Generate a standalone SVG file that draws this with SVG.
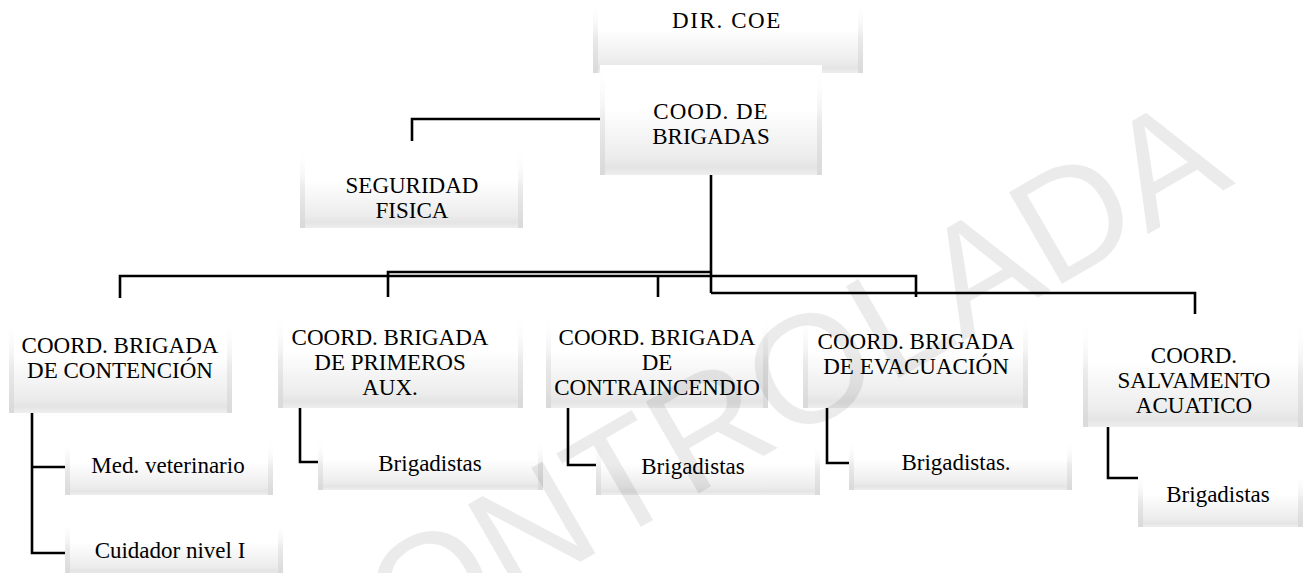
<svg xmlns="http://www.w3.org/2000/svg" width="1304" height="573" viewBox="0 0 1304 573">
<style>
.box{fill:url(#bev);}
.edge{fill:url(#side);}
.t{font-family:'Liberation Serif','Times New Roman',Times,'DejaVu Serif',serif;font-size:23px;fill:#000;text-anchor:middle;}
.c{fill:none;stroke:#000;stroke-width:2.6;stroke-linejoin:miter;stroke-linecap:butt;}
.wm{font-family:'Liberation Sans',Arial,sans-serif;font-size:154px;fill:#000;fill-opacity:0.08;}
</style>
<defs>
<linearGradient id="bev" x1="0" y1="0" x2="0" y2="1">
<stop offset="0" stop-color="#ffffff"/>
<stop offset="0.4" stop-color="#ffffff"/>
<stop offset="0.85" stop-color="#ececec"/>
<stop offset="0.93" stop-color="#e4e4e4"/>
<stop offset="1" stop-color="#eeeeee"/>
</linearGradient>
<linearGradient id="side" x1="0" y1="0" x2="0" y2="1">
<stop offset="0" stop-color="#ffffff" stop-opacity="0"/>
<stop offset="0.5" stop-color="#e0e0e0" stop-opacity="0.6"/>
<stop offset="1" stop-color="#d8d8d8" stop-opacity="0.9"/>
</linearGradient>
</defs>
<rect width="1304" height="573" fill="#ffffff"/>

<g id="dir">
<rect class="box" x="593" y="0" width="270" height="73"/>
<rect class="edge" x="593" y="0" width="5" height="73"/><rect class="edge" x="858" y="0" width="5" height="73"/>
<text class="t" x="727" y="28" letter-spacing="1.6">DIR. COE</text>
</g>
<g id="cood">
<rect class="box" x="600" y="65" width="222" height="110"/>
<rect class="edge" x="600" y="65" width="5" height="110"/><rect class="edge" x="817" y="65" width="5" height="110"/>
<text class="t" x="711" y="119" letter-spacing="1">COOD. DE</text>
<text class="t" x="711" y="144">BRIGADAS</text>
</g>
<g id="seguridad">
<rect class="box" x="300" y="148" width="223" height="80"/>
<rect class="edge" x="300" y="148" width="5" height="80"/><rect class="edge" x="518" y="148" width="5" height="80"/>
<text class="t" x="412" y="193">SEGURIDAD</text>
<text class="t" x="412" y="218">FISICA</text>
</g>
<g id="contencion">
<rect class="box" x="9" y="318" width="223" height="95"/>
<rect class="edge" x="9" y="318" width="5" height="95"/><rect class="edge" x="227" y="318" width="5" height="95"/>
<text class="t" x="120" y="353">COORD. BRIGADA</text>
<text class="t" x="120" y="378">DE CONTENCIÓN</text>
</g>
<g id="primeros">
<rect class="box" x="278" y="313" width="245" height="95"/>
<rect class="edge" x="278" y="313" width="5" height="95"/><rect class="edge" x="518" y="313" width="5" height="95"/>
<text class="t" x="390" y="345">COORD. BRIGADA</text>
<text class="t" x="390" y="370">DE PRIMEROS</text>
<text class="t" x="390" y="395">AUX.</text>
</g>
<g id="contraincendio">
<rect class="box" x="546" y="313" width="222" height="95"/>
<rect class="edge" x="546" y="313" width="5" height="95"/><rect class="edge" x="763" y="313" width="5" height="95"/>
<text class="t" x="657" y="345">COORD. BRIGADA</text>
<text class="t" x="657" y="370">DE</text>
<text class="t" x="657" y="395">CONTRAINCENDIO</text>
</g>
<g id="evacuacion">
<rect class="box" x="803" y="313" width="225" height="95"/>
<rect class="edge" x="803" y="313" width="5" height="95"/><rect class="edge" x="1023" y="313" width="5" height="95"/>
<text class="t" x="916" y="349">COORD. BRIGADA</text>
<text class="t" x="916" y="374">DE EVACUACIÓN</text>
</g>
<g id="salvamento">
<rect class="box" x="1083" y="318" width="220" height="109"/>
<rect class="edge" x="1083" y="318" width="5" height="109"/><rect class="edge" x="1298" y="318" width="5" height="109"/>
<text class="t" x="1194" y="363">COORD.</text>
<text class="t" x="1194" y="388">SALVAMENTO</text>
<text class="t" x="1194" y="413">ACUATICO</text>
</g>
<g id="medvet">
<rect class="box" x="65" y="440" width="208" height="55"/>
<rect class="edge" x="65" y="440" width="5" height="55"/><rect class="edge" x="268" y="440" width="5" height="55"/>
<text class="t" x="168" y="473">Med. veterinario</text>
</g>
<g id="cuidador">
<rect class="box" x="65" y="520" width="218" height="55"/>
<rect class="edge" x="65" y="520" width="5" height="55"/><rect class="edge" x="278" y="520" width="5" height="55"/>
<text class="t" x="170" y="558">Cuidador nivel I</text>
</g>
<g id="brig-primeros">
<rect class="box" x="318" y="440" width="225" height="50"/>
<rect class="edge" x="318" y="440" width="5" height="50"/><rect class="edge" x="538" y="440" width="5" height="50"/>
<text class="t" x="430" y="471">Brigadistas</text>
</g>
<g id="brig-contra">
<rect class="box" x="596" y="443" width="224" height="52"/>
<rect class="edge" x="596" y="443" width="5" height="52"/><rect class="edge" x="815" y="443" width="5" height="52"/>
<text class="t" x="693" y="474">Brigadistas</text>
</g>
<g id="brig-evac">
<rect class="box" x="849" y="440" width="223" height="50"/>
<rect class="edge" x="849" y="440" width="5" height="50"/><rect class="edge" x="1067" y="440" width="5" height="50"/>
<text class="t" x="956" y="470">Brigadistas.</text>
</g>
<g id="brig-salv">
<rect class="box" x="1138" y="472" width="165" height="55"/>
<rect class="edge" x="1138" y="472" width="5" height="55"/><rect class="edge" x="1298" y="472" width="5" height="55"/>
<text class="t" x="1218" y="502">Brigadistas</text>
</g>

<g id="connectors">
<path class="c" d="M600,119 H412 V141"/>
<path class="c" d="M711,175 V293"/>
<path class="c" d="M120,298 V276 H711"/>
<path class="c" d="M388,297 V272 H711"/>
<path class="c" d="M658,297 V276"/>
<path class="c" d="M711,276 H916 V297"/>
<path class="c" d="M711,293 H1195 V314"/>
<path class="c" d="M32,413 V553 H65 M32,467 H65"/>
<path class="c" d="M300,408 V462 H318"/>
<path class="c" d="M568,408 V465 H596"/>
<path class="c" d="M827,408 V463 H849"/>
<path class="c" d="M1108,427 V478 H1138"/>
</g>

<text class="wm" transform="translate(310,718) rotate(-30)">CONTROLADA</text>
</svg>
